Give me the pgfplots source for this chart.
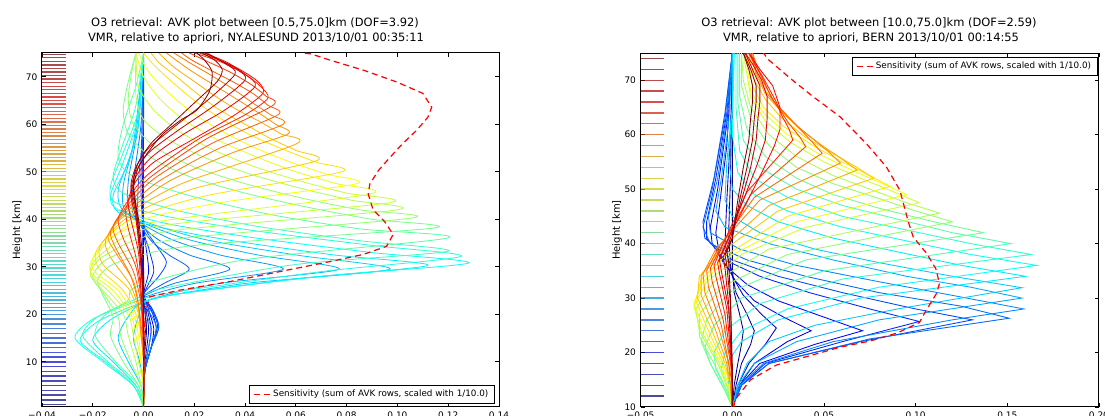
\documentclass[border=0pt]{standalone}
\usepackage{fontspec}
\setmainfont{DejaVu Sans}
\usepackage{pgfplots}
\pgfplotsset{compat=1.18}

% one AVK row: colormap value (0..1000), then the points
\newcommand{\crv}[2]{\addplot[forget plot, color of colormap={#1}, line width=0.6pt, smooth, tension=0.45] coordinates {#2};}
\newcommand{\rcrv}[2]{\addplot[forget plot, color of colormap={#1}, line width=0.65pt] coordinates {#2};}

\pgfplotsset{avkax/.style={
  scale only axis, height=265.5pt, anchor=south west,
  colormap/jet, tick align=inside, major tick length=3pt,
  tick style={black, line width=0.6pt},
  axis line style={line width=0.75pt},
  ticklabel style={font=\fontsize{6.75}{8}\selectfont},
  legend cell align=left,
  legend style={font=\fontsize{6.6}{7.7}\selectfont, draw=black, line width=0.75pt,
    inner xsep=2.5pt, inner ysep=1.5pt},
  legend image code/.code={\draw[##1] (0pt,0pt) -- (12pt,0pt);},
}}

\begin{document}
\begin{tikzpicture}
\path[use as bounding box] (0,0) rectangle (828.75pt,312pt);

% ---------------- NY-ALESUND ----------------
\begin{axis}[avkax, at={(31.5pt,6.75pt)}, width=342.75pt,
  xmin=-0.04, xmax=0.14, ymin=0.5, ymax=75,
  xtick={-0.04,-0.02,0,0.02,0.04,0.06,0.08,0.1,0.12,0.14},
  xticklabels={−0.04,−0.02,0.00,0.02,0.04,0.06,0.08,0.10,0.12,0.14},
  ytick={10,20,30,40,50,60,70}, yticklabels={10,20,30,40,50,60,70},
  point meta min=0.5, point meta max=75,
  legend style={at={(0.991,0.0085)}, anchor=south east}]
\addplot[forget plot, scatter, only marks, mark=-, mark size=9pt, line width=1pt, opacity=0.7, point meta=y]
 coordinates {(-0.03527,1)(-0.03527,2)(-0.03527,3)(-0.03527,4)(-0.03527,5)(-0.03527,6)(-0.03527,7)(-0.03527,8)(-0.03527,9)(-0.03527,10)
 (-0.03527,11)(-0.03527,12)(-0.03527,13)(-0.03527,14)(-0.03527,15)(-0.03527,16)(-0.03527,17)(-0.03527,18)(-0.03527,19)(-0.03527,20)
 (-0.03527,20.75)(-0.03527,21.5)(-0.03527,22.25)(-0.03527,23)(-0.03527,23.75)(-0.03527,24.5)(-0.03527,25.25)(-0.03527,26)(-0.03527,26.75)(-0.03527,27.5)
 (-0.03527,28.25)(-0.03527,29)(-0.03527,29.75)(-0.03527,30.5)(-0.03527,31.25)(-0.03527,32)(-0.03527,32.75)(-0.03527,33.5)(-0.03527,34.25)(-0.03527,35)
 (-0.03527,35.75)(-0.03527,36.5)(-0.03527,37.25)(-0.03527,38)(-0.03527,38.75)(-0.03527,39.5)(-0.03527,40.25)(-0.03527,41)(-0.03527,41.75)(-0.03527,42.5)
 (-0.03527,43.25)(-0.03527,44)(-0.03527,44.75)(-0.03527,45.5)(-0.03527,46.25)(-0.03527,47)(-0.03527,47.75)(-0.03527,48.5)(-0.03527,49.25)(-0.03527,50)
 (-0.03527,50.75)(-0.03527,51.5)(-0.03527,52.25)(-0.03527,53)(-0.03527,53.75)(-0.03527,54.5)(-0.03527,55.25)(-0.03527,56)(-0.03527,56.75)(-0.03527,57.5)
 (-0.03527,58.25)(-0.03527,59)(-0.03527,59.75)(-0.03527,60.5)(-0.03527,61.25)(-0.03527,62)(-0.03527,62.75)(-0.03527,63.5)(-0.03527,64.25)(-0.03527,65)
 (-0.03527,65.75)(-0.03527,66.5)(-0.03527,67.25)(-0.03527,68)(-0.03527,68.75)(-0.03527,69.5)(-0.03527,70.25)(-0.03527,71)(-0.03527,71.75)(-0.03527,72.5)
 (-0.03527,73.25)(-0.03527,74)(-0.03527,74.75)};
\crv{7}{(0,0.5)(0,10)(0.0005,15)(0.001,18)(0.0003,22)(0,30)(0,75)}
\crv{34}{(0,0.5)(0,8)(0.0008,14)(0.0012,17)(0.0005,21)(0,26)(0,75)}
\crv{60}{(0,0.5)(0.0002,8)(0.0015,14)(0.002,17)(0.001,21)(0,26)(0,75)}
\crv{87}{(0,0.5)(0.0003,8)(0.002,13)(0.003,17)(0.0015,21)(0,25)(0,75)}
\crv{114}{(0,0.5)(0.0005,8)(0.003,13)(0.004,17)(0.002,21)(0,25)(-0.0005,35)(0,75)}
\crv{141}{(0,0.5)(0.0005,8)(0.003,13)(0.005,17)(0.003,21)(0,24)(0.002,29)(0.001,34)(0,40)(0,75)}
\crv{168}{(0,0.5)(0.0005,8)(0.003,13)(0.0055,17.5)(0.003,21.5)(0,24)(0.004,29)(0.002,34)(0,40)(0,75)}
\crv{195}{(0,0.5)(0.0005,8)(0.003,13)(0.006,17.5)(0.003,21.5)(-0.001,23.5)(0.006,28)(0.009,31)(0.005,34.5)(0,39)(-0.001,48)(0,75)}
\crv{221}{(0,0.5)(0.0005,8)(0.003,13)(0.006,17.5)(0.002,21.5)(-0.001,23.5)(0.008,26.5)(0.018,29.5)(0.01,32.5)(0.003,35.5)(-0.002,40)(-0.002,48)(0,60)(0,75)}
\crv{248}{(0,0.5)(0.0005,8)(0.003,13)(0.005,17.5)(0.001,21.5)(-0.001,23.5)(0.012,26.5)(0.034,29.5)(0.018,32.5)(0.005,36)(-0.004,41)(-0.004,48)(-0.001,60)(0,75)}
\crv{275}{(0,0.5)(0,8)(0.002,13)(0.003,17)(0,21.5)(0,23.5)(0.02,26.5)(0.055,29.5)(0.03,32.5)(0.01,36)(-0.005,41)(-0.006,48)(-0.002,60)(0,75)}
\crv{302}{(0,0.5)(0,6)(-0.002,11)(-0.004,15)(-0.002,19.5)(0.002,23)(0.03,26.5)(0.077,29.5)(0.045,32.5)(0.016,36)(-0.006,41)(-0.008,47)(-0.003,58)(0,75)}
\crv{329}{(0,0.5)(-0.001,5)(-0.006,10)(-0.01,15)(-0.006,19.5)(0.002,23)(0.04,26.5)(0.097,29.5)(0.06,32.5)(0.022,36)(-0.006,41)(-0.01,46)(-0.004,56)(0,75)}
\crv{356}{(0,0.5)(-0.003,5)(-0.012,10)(-0.02,14.5)(-0.014,18.5)(-0.002,22)(0.01,24)(0.06,27.5)(0.112,30.3)(0.075,32.5)(0.035,35.5)(0.005,38.5)(-0.01,41.5)(-0.012,45)(-0.006,52)(-0.002,60)(0,75)}
\crv{383}{(0,0.5)(-0.004,5)(-0.015,10)(-0.025,14.5)(-0.018,18.5)(-0.003,22)(0.01,24)(0.07,28)(0.128,30.8)(0.09,33)(0.045,36)(0.01,39)(-0.01,42)(-0.013,45)(-0.008,52)(-0.002,62)(0,75)}
\crv{409}{(0,0.5)(-0.004,5)(-0.016,10)(-0.027,15)(-0.02,19)(-0.004,22.5)(0.01,24.5)(0.07,29)(0.125,32.2)(0.09,34.5)(0.045,37.5)(0.01,40.5)(-0.011,43.5)(-0.013,47)(-0.008,54)(-0.002,63)(0,75)}
\crv{436}{(0,0.5)(-0.003,5)(-0.014,10)(-0.024,15.5)(-0.018,19.5)(-0.004,23)(0.008,25.5)(0.06,30.5)(0.12,33.3)(0.085,35.5)(0.045,38.5)(0.012,42)(-0.008,45.5)(-0.012,49)(-0.008,56)(-0.003,64)(0,75)}
\crv{463}{(0,0.5)(-0.002,5)(-0.011,10)(-0.019,15.5)(-0.016,19.5)(-0.006,23)(-0.002,26)(0.04,31.5)(0.12,36.1)(0.085,38)(0.05,41)(0.018,45)(-0.004,49)(-0.01,53)(-0.008,60)(-0.003,68)(0,75)}
\crv{490}{(0,0.5)(-0.002,5)(-0.008,10)(-0.013,15.5)(-0.012,19.5)(-0.016,24)(-0.018,27.5)(-0.01,31)(0.02,34.5)(0.1148,38.2)(0.09,40)(0.065,42.5)(0.04,45.5)(0.018,49)(0.003,53)(-0.006,58)(-0.008,63)(-0.006,69)(-0.003,75)}
\crv{517}{(0,0.5)(-0.001,5)(-0.005,10)(-0.009,15.5)(-0.01,19.5)(-0.016,24.5)(-0.02,28)(-0.013,32)(0.015,36)(0.106,40.3)(0.085,42)(0.062,44.5)(0.04,47.5)(0.02,51)(0.005,55)(-0.004,60)(-0.006,65)(-0.005,70)(-0.003,75)}
\crv{544}{(0,0.5)(-0.001,5)(-0.003,10)(-0.006,15.5)(-0.008,20)(-0.016,25)(-0.021,28.5)(-0.015,32.5)(0.01,37.5)(0.10,42)(0.082,44)(0.062,46.5)(0.042,49.5)(0.024,53)(0.009,57)(0,61)(-0.003,66)(-0.003,75)}
\crv{570}{(0,0.5)(0,5)(-0.002,10)(-0.004,15.5)(-0.006,20)(-0.014,25)(-0.021,28.5)(-0.017,32.5)(0.005,38.5)(0.097,43.5)(0.08,45.5)(0.062,48)(0.044,51)(0.028,54.5)(0.014,58.5)(0.004,63)(-0.002,68)(-0.003,75)}
\crv{597}{(0,0.5)(0,5)(-0.001,10)(-0.003,15.5)(-0.005,20)(-0.012,25)(-0.021,29)(-0.018,33)(0,39)(0.089,45.3)(0.076,47.5)(0.06,50)(0.045,53)(0.03,56.5)(0.017,60.5)(0.007,65)(0,70)(-0.003,75)}
\crv{624}{(0,0.5)(0,5)(-0.001,10)(-0.002,15.5)(-0.004,20)(-0.01,25)(-0.02,29.5)(-0.018,33.5)(-0.003,39.5)(0.03,43.5)(0.084,47.5)(0.072,49.5)(0.058,52)(0.044,55)(0.031,58.5)(0.019,62.5)(0.009,67)(0.002,71)(-0.002,75)}
\crv{651}{(0,0.5)(0,10)(-0.001,15.5)(-0.003,20)(-0.008,25)(-0.018,30)(-0.018,34)(-0.005,40)(0.025,45)(0.078,50)(0.068,52)(0.056,54.5)(0.043,57.5)(0.031,61)(0.02,65)(0.011,69)(0.004,72.5)(0,75)}
\crv{678}{(0,0.5)(0,10)(-0.001,15.5)(-0.002,20)(-0.006,25.5)(-0.016,30.5)(-0.017,34.5)(-0.006,40.5)(0.02,46.5)(0.068,52.3)(0.06,54.5)(0.05,57)(0.04,60)(0.03,63)(0.021,66.5)(0.013,70)(0.006,73)(0.003,75)}
\crv{705}{(0,0.5)(0,10)(-0.001,16)(-0.002,21)(-0.005,26)(-0.013,32)(-0.015,35.5)(-0.008,40.5)(0.015,47.5)(0.0603,55.9)(0.054,58)(0.046,60.5)(0.037,63)(0.028,66)(0.02,69)(0.012,72)(0.006,75)}
\crv{732}{(0,0.5)(0,10)(-0.001,16)(-0.002,22)(-0.004,27)(-0.011,33)(-0.014,36.5)(-0.008,41)(0.01,48)(0.035,54)(0.057,58)(0.052,60)(0.045,62.5)(0.036,65.5)(0.027,68.5)(0.018,71.5)(0.009,75)}
\crv{758}{(0,0.5)(0,12)(-0.002,22)(-0.005,28)(-0.011,34)(-0.013,37.5)(-0.007,42)(0.006,48)(0.03,55)(0.055,60)(0.05,62)(0.043,64.5)(0.035,67.5)(0.026,70.5)(0.018,73)(0.012,75)}
\crv{785}{(0,0.5)(0,12)(-0.001,22)(-0.004,29)(-0.01,35)(-0.012,38.5)(-0.007,42.5)(0.004,48.5)(0.027,56)(0.053,62)(0.049,64)(0.043,66.5)(0.035,69)(0.026,71.5)(0.019,73.5)(0.015,75)}
\crv{812}{(0,0.5)(0,12)(-0.001,23)(-0.003,30)(-0.008,36)(-0.01,40)(-0.006,44)(0.003,49)(0.025,57)(0.051,64)(0.048,66)(0.042,68.5)(0.034,71)(0.026,73)(0.018,75)}
\crv{839}{(0,0.5)(0,15)(-0.001,25)(-0.003,32)(-0.006,38)(-0.007,42)(-0.004,46)(0.003,50)(0.022,57)(0.04,62)(0.049,65.5)(0.046,68)(0.04,70.5)(0.031,73)(0.02,75)}
\crv{866}{(0,0.5)(0,15)(-0.001,25)(-0.002,33)(-0.005,40)(-0.006,44)(-0.003,48)(0.004,52)(0.02,57)(0.036,62)(0.047,66.5)(0.045,69)(0.038,71.5)(0.03,73.5)(0.022,75)}
\crv{893}{(0,0.5)(0,20)(-0.001,30)(-0.003,40)(-0.005,45)(-0.003,49)(0.003,53)(0.016,58)(0.032,63)(0.044,68)(0.04,70.5)(0.033,73)(0.024,75)}
\crv{919}{(0,0.5)(0,20)(-0.001,30)(-0.003,41)(-0.005,46)(-0.003,50)(0.002,54)(0.013,58.5)(0.028,64)(0.04,69.3)(0.037,71.5)(0.03,73.5)(0.025,75)}
\crv{946}{(0,0.5)(0,20)(-0.001,32)(-0.003,42)(-0.005,47)(-0.003,51)(0.002,55)(0.011,59)(0.024,64.5)(0.036,70.5)(0.033,72.5)(0.028,74)(0.024,75)}
\crv{973}{(0,0.5)(0,20)(-0.001,33)(-0.003,43)(-0.004,48)(-0.002,52)(0.003,56)(0.01,59.5)(0.02,64.5)(0.029,69)(0.031,71.5)(0.028,73.5)(0.023,75)}
\crv{1000}{(0,0.5)(0,20)(0,30)(-0.002,40)(-0.004,46)(-0.002,51)(0.003,55)(0.0077,58)(0.015,61)(0.021,63)(0.026,67)(0.027,71)(0.024,73.5)(0.021,75)}
\addplot[red, line width=0.9pt, dash pattern=on 4.5pt off 3pt] coordinates {
 (0,0.5)(0,15)(0.001,21)(0.0025,23.7)(0.0143,25.1)(0.034,26.9)(0.0537,29)(0.0734,31.1)(0.0865,32.6)
 (0.0957,34.3)(0.0983,36.8)(0.095,39.5)(0.0904,42)(0.0885,45.3)(0.0891,47.4)(0.0924,50.2)(0.097,53)
 (0.102,55.9)(0.1075,58.7)(0.112,61.5)(0.1135,63.6)(0.110,66.5)(0.0997,68.9)(0.0865,71.4)(0.0734,73.5)(0.066,74.8)(0.063,75)};
\addlegendentry{Sensitivity (sum of AVK rows, scaled with 1/10.0)}
\end{axis}

% ---------------- BERN ----------------
\begin{axis}[avkax, at={(480.5pt,6.75pt)}, width=343.7pt,
  xmin=-0.05, xmax=0.2, ymin=10, ymax=75,
  xtick={-0.05,0,0.05,0.1,0.15,0.2},
  xticklabels={−0.05,0.00,0.05,0.10,0.15,0.20},
  ytick={10,20,30,40,50,60,70}, yticklabels={10,20,30,40,50,60,70},
  point meta min=12, point meta max=74,
  legend style={at={(0.997,0.989)}, anchor=north east}]
\addplot[forget plot, scatter, only marks, mark=-, mark size=8.75pt, line width=1pt, opacity=0.7, point meta=y]
 coordinates {(-0.04364,12)(-0.04364,14)(-0.04364,16)(-0.04364,18)(-0.04364,20)(-0.04364,22)(-0.04364,24)(-0.04364,26)
 (-0.04364,28)(-0.04364,30)(-0.04364,32)(-0.04364,34)(-0.04364,36)(-0.04364,38)(-0.04364,40)(-0.04364,42)
 (-0.04364,44)(-0.04364,46)(-0.04364,48)(-0.04364,50)(-0.04364,52)(-0.04364,54)(-0.04364,56)(-0.04364,58)
 (-0.04364,60)(-0.04364,62)(-0.04364,64)(-0.04364,66)(-0.04364,68)(-0.04364,70)(-0.04364,72)(-0.04364,74)};
\rcrv{0}{(0,10)(0.001,14)(0.003,18)(0.005,21.5)(0.006,24)(0.004,27)(0.001,31)(0,36)(0,75)}
\rcrv{32}{(0,10)(0.002,14)(0.005,18)(0.010,21.5)(0.012,24)(0.008,27)(0.002,31)(-0.001,36)(-0.002,42)(-0.001,52)(0,75)}
\rcrv{65}{(0,10)(0.003,14)(0.009,18)(0.018,21.5)(0.024,24.5)(0.016,27)(0.006,30.5)(0,34)(-0.004,40)(-0.003,48)(-0.001,60)(0,75)}
\rcrv{97}{(0,10)(0.004,14)(0.012,18)(0.03,22)(0.043,24)(0.028,26.5)(0.012,29.5)(0.002,33)(-0.007,38)(-0.009,42)(-0.007,47)(-0.003,58)(0,75)}
\rcrv{129}{(0,10)(0.004,14)(0.015,18)(0.045,21.5)(0.071,24)(0.05,26.5)(0.025,29.5)(0.008,32.5)(-0.004,36)(-0.011,40)(-0.012,43)(-0.008,50)(-0.003,62)(0,75)}
\rcrv{161}{(0,10)(0.005,14)(0.018,18)(0.06,22)(0.102,25.7)(0.075,28)(0.042,31)(0.015,34)(-0.004,37)(-0.014,41)(-0.014,44)(-0.009,52)(-0.003,64)(0,75)}
\rcrv{194}{(0,10)(0.005,14)(0.02,18)(0.07,22)(0.131,26)(0.10,28)(0.06,31)(0.025,34)(0,37)(-0.015,41)(-0.016,44)(-0.010,52)(-0.004,64)(0,75)}
\rcrv{226}{(0,10)(0.005,14)(0.02,18)(0.075,22.5)(0.151,26.3)(0.125,28.5)(0.08,31)(0.04,34)(0.008,37)(-0.012,40)(-0.016,43)(-0.011,50)(-0.004,63)(0,75)}
\rcrv{258}{(0,10)(0.004,14)(0.017,18)(0.055,22)(0.12,26)(0.159,28)(0.12,30.5)(0.08,33)(0.035,36)(0.004,39)(-0.012,42)(-0.013,45)(-0.008,52)(-0.003,63)(0,75)}
\rcrv{290}{(0,10)(0.003,14)(0.012,18)(0.035,22)(0.08,26)(0.158,30)(0.13,32)(0.095,34)(0.055,37)(0.02,40)(-0.004,43)(-0.009,46)(-0.006,52)(-0.002,62)(0,75)}
\rcrv{323}{(0,10)(0.003,14)(0.008,18)(0.02,22)(0.045,25)(0.09,28)(0.158,31.9)(0.12,34)(0.08,36.5)(0.045,39)(0.015,42)(0,45)(-0.004,48)(-0.003,55)(0,65)(0,75)}
\rcrv{355}{(0,10)(-0.002,14)(-0.003,18)(0.005,22)(0.025,26)(0.07,30)(0.16,34)(0.125,36)(0.09,38.5)(0.055,41)(0.025,44)(0.008,47)(0,50)(-0.002,56)(0,65)(0.001,75)}
\rcrv{387}{(0,10)(-0.003,14)(-0.006,17)(-0.004,20)(0.005,24)(0.03,28)(0.08,32)(0.166,36)(0.13,38)(0.095,40.5)(0.06,43)(0.03,46)(0.012,49)(0.003,53)(0,60)(0.001,75)}
\rcrv{419}{(0,10)(-0.003,13)(-0.009,17)(-0.01,20)(-0.004,24)(0.015,29)(0.06,33.5)(0.163,38)(0.13,40)(0.095,42.5)(0.06,45)(0.03,48.5)(0.012,52)(0.004,57)(0.002,65)(0.002,75)}
\rcrv{452}{(0,10)(-0.004,13)(-0.012,18)(-0.015,21)(-0.01,25)(0.005,30)(0.05,35)(0.152,40)(0.12,42)(0.09,44.5)(0.06,47)(0.035,50)(0.015,54)(0.006,59)(0.003,66)(0.003,75)}
\rcrv{484}{(0,10)(-0.004,13)(-0.012,18)(-0.017,22)(-0.014,26)(-0.002,31)(0.04,37)(0.137,42)(0.11,44)(0.08,46.5)(0.055,49)(0.035,52)(0.018,56)(0.008,61)(0.004,67)(0.004,75)}
\rcrv{516}{(0,10)(-0.003,13)(-0.01,18)(-0.018,23)(-0.018,27)(-0.006,32)(0.03,38)(0.12,44)(0.10,46)(0.078,48.5)(0.055,51)(0.035,54)(0.02,58)(0.01,63)(0.005,69)(0.005,75)}
\rcrv{548}{(0,10)(-0.002,13)(-0.008,18)(-0.018,24)(-0.02,28)(-0.01,33)(0.02,39)(0.113,45.6)(0.095,47.5)(0.075,50)(0.055,52.5)(0.035,56)(0.02,60)(0.01,65)(0.006,70)(0.005,75)}
\rcrv{581}{(0,10)(-0.002,13)(-0.007,18)(-0.017,24)(-0.021,28.5)(-0.014,33)(0.005,38)(0.04,43)(0.102,47.5)(0.088,49.5)(0.07,52)(0.05,55)(0.032,58.5)(0.018,62.5)(0.01,67)(0.006,75)}
\rcrv{613}{(0,10)(-0.002,14)(-0.006,18)(-0.015,24)(-0.021,29)(-0.016,33)(0,38)(0.035,44)(0.095,49)(0.082,51)(0.065,53.5)(0.047,56.5)(0.03,60)(0.017,64)(0.01,68)(0.007,75)}
\rcrv{645}{(0,10)(-0.001,14)(-0.005,18)(-0.013,24)(-0.02,29.5)(-0.017,33.5)(-0.003,38)(0.03,45)(0.086,50.5)(0.075,52.5)(0.06,55)(0.044,58)(0.028,61.5)(0.017,65)(0.011,69)(0.008,75)}
\rcrv{677}{(0,10)(-0.001,14)(-0.004,18)(-0.011,24)(-0.019,30)(-0.018,34)(-0.006,38.5)(0.025,46)(0.077,52)(0.068,54)(0.055,56.5)(0.04,59.5)(0.027,63)(0.018,66.5)(0.012,70)(0.009,75)}
\rcrv{710}{(0,10)(-0.001,14)(-0.003,18)(-0.009,24)(-0.017,30.5)(-0.017,34)(-0.008,38.5)(0.02,47)(0.068,53.5)(0.06,55.5)(0.049,58)(0.037,61)(0.026,64.5)(0.018,67.5)(0.013,71)(0.01,75)}
\rcrv{742}{(0,10)(-0.001,14)(-0.002,18)(-0.007,24)(-0.015,31)(-0.016,34.5)(-0.009,39)(0.015,48)(0.059,54.8)(0.052,57)(0.043,59.5)(0.034,62)(0.025,65)(0.018,68)(0.013,71.5)(0.011,75)}
\rcrv{774}{(0,10)(0,14)(-0.002,18)(-0.006,25)(-0.013,32)(-0.014,35)(-0.008,39)(0.012,48.5)(0.049,56.6)(0.044,58.5)(0.037,61)(0.03,63.5)(0.023,66)(0.018,69)(0.014,72)(0.011,75)}
\rcrv{806}{(0,10)(0,14)(-0.001,18)(-0.005,26)(-0.011,33)(-0.012,35.5)(-0.006,39.5)(0.01,49)(0.04,57.8)(0.037,59.5)(0.031,62)(0.026,64.5)(0.021,67)(0.017,70)(0.013,72.5)(0.01,75)}
\rcrv{839}{(0,10)(0,16)(-0.004,27)(-0.009,34)(-0.010,36)(-0.005,40)(0.008,49.5)(0.033,59)(0.031,61)(0.027,63.5)(0.024,66)(0.02,68.5)(0.016,71)(0.012,73)(0.009,75)}
\rcrv{871}{(0,10)(0,16)(-0.003,28)(-0.007,34.5)(-0.008,36.5)(-0.003,40.5)(0.007,47)(0.016,53)(0.023,58)(0.026,61)(0.026,65)(0.022,69)(0.015,72)(0.009,75)}
\rcrv{903}{(0,10)(0,16)(-0.002,28)(-0.006,35)(-0.007,37)(-0.002,41)(0.006,48)(0.013,54)(0.018,59)(0.019,63)(0.019,67)(0.016,70)(0.011,73)(0.007,75)}
\rcrv{935}{(0,10)(0,16)(-0.002,29)(-0.004,35.5)(-0.005,37.5)(-0.001,41)(0.005,48)(0.01,54)(0.013,59)(0.014,63)(0.015,66)(0.015,69)(0.011,72)(0.007,75)}
\rcrv{968}{(0,10)(0,16)(-0.001,29)(-0.003,36)(-0.004,38)(0,41)(0.004,48)(0.008,54)(0.011,59)(0.012,63)(0.013,66)(0.013,69)(0.01,72)(0.006,75)}
\rcrv{1000}{(0,10)(0,16)(-0.001,30)(-0.002,36.5)(-0.003,38.5)(0,41)(0.003,48)(0.006,54)(0.009,59)(0.01,63)(0.011,66)(0.011,69)(0.009,72)(0.006,75)}
\addplot[red, line width=0.9pt, dash pattern=on 4.5pt off 3pt] coordinates {
 (0.0008,10)(0.0014,11.3)(0.01,15)(0.024,17.7)(0.041,19.3)(0.059,21)(0.075,22.1)(0.09,23.6)(0.102,25.5)
 (0.106,27.9)(0.1115,30.9)(0.113,32.7)(0.111,35.4)(0.106,38.2)(0.0987,41.2)(0.096,44)(0.0914,49.8)
 (0.084,54.1)(0.073,58.4)(0.0587,63.3)(0.044,67)(0.0314,70.4)(0.0196,73.8)(0.017,75)};
\addlegendentry{Sensitivity (sum of AVK rows, scaled with 1/10.0)}
\end{axis}

% titles and axis labels
\node[anchor=base, font=\fontsize{8.6}{10}\selectfont] at (191.25pt,292.1pt) {O3 retrieval: AVK plot between [0.5,75.0]km (DOF=3.92)};
\node[anchor=base, font=\fontsize{8.6}{10}\selectfont] at (192pt,280.7pt) {VMR, relative to apriori, NY.ALESUND 2013/10/01 00:35:11};
\node[anchor=base, font=\fontsize{8.6}{10}\selectfont] at (651.75pt,292.1pt) {O3 retrieval: AVK plot between [10.0,75.0]km (DOF=2.59)};
\node[anchor=base, font=\fontsize{8.6}{10}\selectfont] at (653.25pt,280.7pt) {VMR, relative to apriori, BERN 2013/10/01 00:14:55};
\node[rotate=90, font=\fontsize{7.5}{9}\selectfont] at (13.1pt,139.5pt) {Height [km]};
\node[rotate=90, font=\fontsize{7.5}{9}\selectfont] at (462.75pt,139.5pt) {Height [km]};
\end{tikzpicture}
\end{document}
